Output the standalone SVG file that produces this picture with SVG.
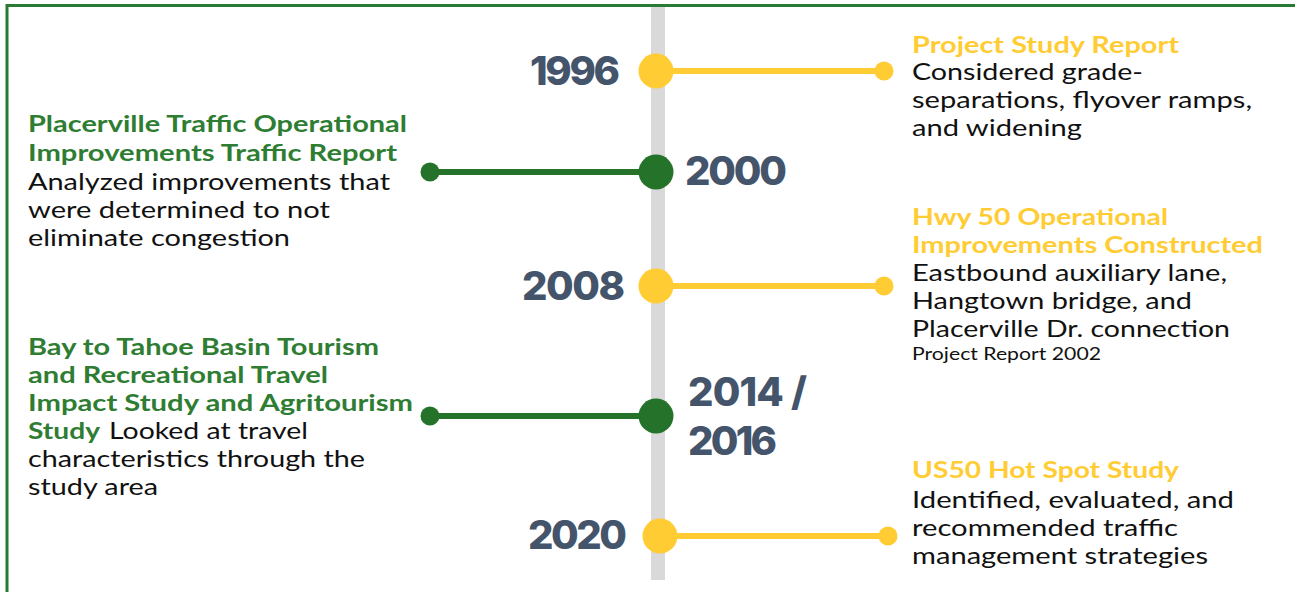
<svg xmlns="http://www.w3.org/2000/svg" width="1295" height="592" viewBox="0 0 1295 592">
<style>
.bg{fill:#ffffff}
.frame{fill:none;stroke:#2b7a33;stroke-width:3}
.spine{fill:#d9d9d9}
.yl{stroke:#ffcc33;stroke-width:6}
.gl{stroke:#25732b;stroke-width:6}
.yf{fill:#ffcc33}
.gf{fill:#25732b}
.yr{font-family:Inter,"DejaVu Sans",sans-serif;font-weight:800;font-size:40px;fill:#44546a}
.t{font-family:Lato,"Open Sans","Liberation Sans",sans-serif;font-size:23.3px;fill:#111111}
.tg{font-family:Lato,"Open Sans","Liberation Sans",sans-serif;font-size:23.3px;font-weight:700;fill:#2e7d32}
.ty{font-family:Lato,"Open Sans","Liberation Sans",sans-serif;font-size:23.3px;font-weight:700;fill:#ffcc33}
.ts{font-family:Lato,"Open Sans","Liberation Sans",sans-serif;font-size:18px;fill:#111111}
</style>
<rect class="bg" x="0" y="0" width="1295" height="592"/>
<path class="frame" d="M7,592 V5.5 H1295"/>
<rect class="spine" x="651" y="7" width="14" height="573"/>
<g id="connectors">
<line class="yl" x1="656" y1="71" x2="884" y2="71"/>
<line class="gl" x1="430" y1="172" x2="656" y2="172"/>
<line class="yl" x1="656" y1="286" x2="884" y2="286"/>
<line class="gl" x1="430" y1="416" x2="656" y2="416"/>
<line class="yl" x1="660" y1="536" x2="888" y2="536"/>
</g>
<g id="n1996">
<circle class="yf" cx="656" cy="71" r="17.5"/>
<circle class="yf" cx="884" cy="71" r="9.5"/>
<text class="yr" x="530" y="85" textLength="90">1996</text>
<text class="ty" x="912" y="53" textLength="267" lengthAdjust="spacingAndGlyphs">Project Study Report</text>
<text class="t" x="912" y="80" textLength="231" lengthAdjust="spacingAndGlyphs">Considered grade-</text>
<text class="t" x="912" y="108" textLength="340" lengthAdjust="spacingAndGlyphs">separations, flyover ramps,</text>
<text class="t" x="912" y="136" textLength="170" lengthAdjust="spacingAndGlyphs">and widening</text>
</g>
<g id="n2000">
<circle class="gf" cx="656" cy="172" r="17.5"/>
<circle class="gf" cx="430" cy="172" r="9.5"/>
<text class="yr" x="685" y="185" textLength="102">2000</text>
<text class="tg" x="28" y="132" textLength="379" lengthAdjust="spacingAndGlyphs">Placerville Traffic Operational</text>
<text class="tg" x="28" y="161" textLength="369" lengthAdjust="spacingAndGlyphs">Improvements Traffic Report</text>
<text class="t" x="28" y="190" textLength="362" lengthAdjust="spacingAndGlyphs">Analyzed improvements that</text>
<text class="t" x="28" y="218" textLength="302" lengthAdjust="spacingAndGlyphs">were determined to not</text>
<text class="t" x="28" y="246" textLength="262" lengthAdjust="spacingAndGlyphs">eliminate congestion</text>
</g>
<g id="n2008">
<circle class="yf" cx="656" cy="286" r="17.5"/>
<circle class="yf" cx="884" cy="286" r="9.5"/>
<text class="yr" x="522" y="300" textLength="103">2008</text>
<text class="ty" x="912" y="225" textLength="256" lengthAdjust="spacingAndGlyphs">Hwy 50 Operational</text>
<text class="ty" x="912" y="253" textLength="351" lengthAdjust="spacingAndGlyphs">Improvements Constructed</text>
<text class="t" x="912" y="281" textLength="315" lengthAdjust="spacingAndGlyphs">Eastbound auxiliary lane,</text>
<text class="t" x="912" y="309" textLength="280" lengthAdjust="spacingAndGlyphs">Hangtown bridge, and</text>
<text class="t" x="912" y="337" textLength="318" lengthAdjust="spacingAndGlyphs">Placerville Dr. connection</text>
<text class="ts" x="912" y="360" textLength="189" lengthAdjust="spacingAndGlyphs">Project Report 2002</text>
</g>
<g id="n2014">
<circle class="gf" cx="656" cy="416" r="17.5"/>
<circle class="gf" cx="430" cy="416" r="9.5"/>
<text class="yr" x="688" y="406" textLength="119">2014 /</text>
<text class="yr" x="688" y="455" textLength="89">2016</text>
<text class="tg" x="28" y="355" textLength="351" lengthAdjust="spacingAndGlyphs">Bay to Tahoe Basin Tourism</text>
<text class="tg" x="28" y="383" textLength="300" lengthAdjust="spacingAndGlyphs">and Recreational Travel</text>
<text class="tg" x="28" y="411" textLength="385" lengthAdjust="spacingAndGlyphs">Impact Study and Agritourism</text>
<text class="tg" x="28" y="439" textLength="72" lengthAdjust="spacingAndGlyphs">Study</text>
<text class="t" x="109" y="439" textLength="199" lengthAdjust="spacingAndGlyphs">Looked at travel</text>
<text class="t" x="28" y="467" textLength="337" lengthAdjust="spacingAndGlyphs">characteristics through the</text>
<text class="t" x="28" y="495" textLength="130" lengthAdjust="spacingAndGlyphs">study area</text>
</g>
<g id="n2020">
<circle class="yf" cx="660" cy="536" r="17.5"/>
<circle class="yf" cx="888" cy="536" r="9.5"/>
<text class="yr" x="528" y="549" textLength="99">2020</text>
<text class="ty" x="912" y="478" textLength="267" lengthAdjust="spacingAndGlyphs">US50 Hot Spot Study</text>
<text class="t" x="912" y="508" textLength="322" lengthAdjust="spacingAndGlyphs">Identified, evaluated, and</text>
<text class="t" x="912" y="536" textLength="266" lengthAdjust="spacingAndGlyphs">recommended traffic</text>
<text class="t" x="912" y="564" textLength="296" lengthAdjust="spacingAndGlyphs">management strategies</text>
</g>
</svg>
